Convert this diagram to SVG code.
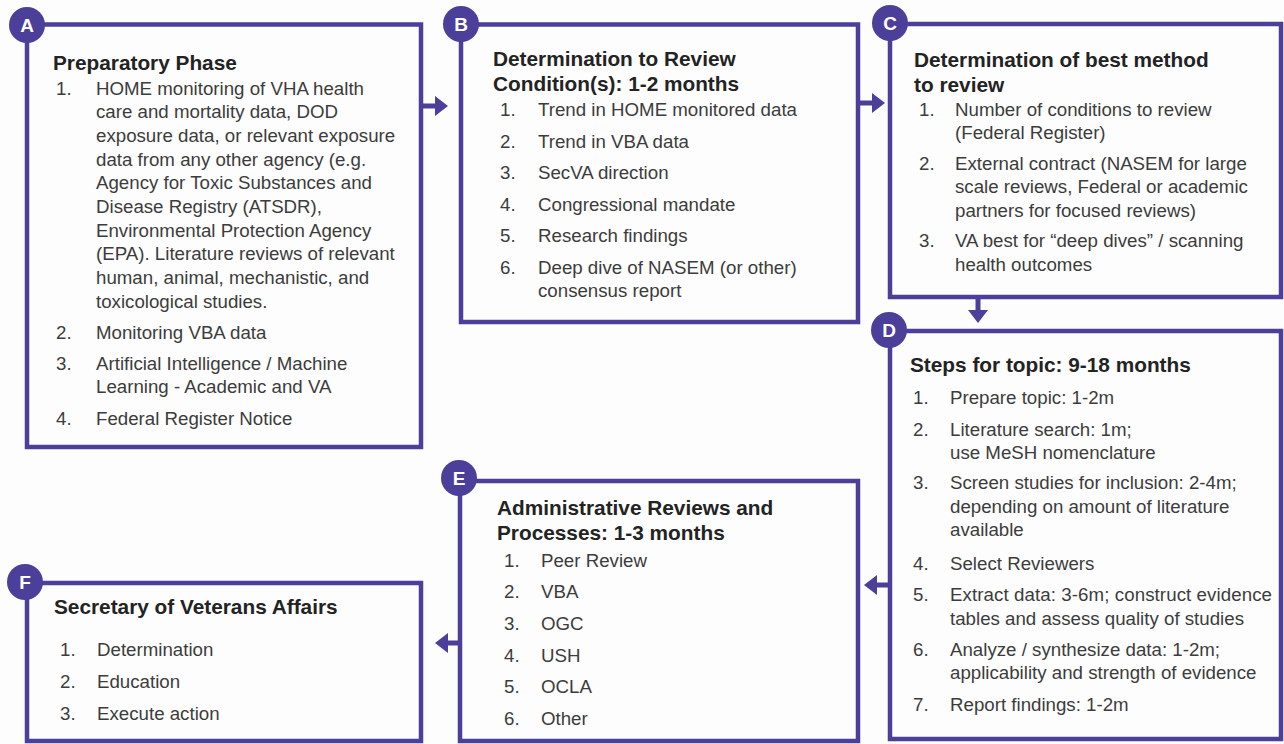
<svg xmlns="http://www.w3.org/2000/svg" width="1284" height="744" viewBox="0 0 1284 744">
  <defs>
    <style>
      .box { fill: none; stroke: #4b3f99; stroke-width: 4.5; }
      .badge { fill: #4b3f99; }
      .badge-t { fill: #ffffff; font-family: "Liberation Sans", Arial, sans-serif; font-weight: 700; font-size: 19px; text-anchor: middle; }
      .title { fill: #232323; font-family: "Liberation Sans", Arial, sans-serif; font-weight: 700; font-size: 20.8px; }
      .body { fill: #3c3c3c; font-family: "Liberation Sans", Arial, sans-serif; font-size: 18.7px; }
      .conn { stroke: #4b3f99; stroke-width: 5; fill: none; }
    </style>
    <marker id="head" markerUnits="userSpaceOnUse" markerWidth="16" markerHeight="22" refX="1" refY="10" orient="auto" overflow="visible">
      <path d="M0,0 L13,10 L0,20 Z" fill="#4b3f99"/>
    </marker>
  </defs>

  <rect x="0" y="0" width="1284" height="744" fill="#fdfdfd"/>

  <!-- connectors between stages -->
  <g id="connectors">
    <line class="conn" x1="421" y1="106" x2="436" y2="106" marker-end="url(#head)"/>
    <line class="conn" x1="858" y1="103" x2="873" y2="103" marker-end="url(#head)"/>
    <line class="conn" x1="978" y1="297" x2="978" y2="311" marker-end="url(#head)"/>
    <line class="conn" x1="890" y1="585" x2="876" y2="585" marker-end="url(#head)"/>
    <line class="conn" x1="460" y1="643" x2="447" y2="643" marker-end="url(#head)"/>
  </g>

  <!-- A: preparatory phase -->
  <g id="stage-a">
    <rect class="box" x="27" y="24.5" width="394" height="422.5"/>
    <circle class="badge" cx="27" cy="25" r="18"/>
    <text class="badge-t" x="27" y="32">A</text>
    <text class="title" x="53" y="69.5">Preparatory Phase</text>
    <g class="body">
      <text x="56" y="94.5">1.</text>
      <text x="96" y="94.5">HOME monitoring of VHA health</text>
      <text x="96" y="118.2">care and mortality data, DOD</text>
      <text x="96" y="141.9">exposure data, or relevant exposure</text>
      <text x="96" y="165.6">data from any other agency (e.g.</text>
      <text x="96" y="189.3">Agency for Toxic Substances and</text>
      <text x="96" y="213">Disease Registry (ATSDR),</text>
      <text x="96" y="236.7">Environmental Protection Agency</text>
      <text x="96" y="260.4">(EPA). Literature reviews of relevant</text>
      <text x="96" y="284.1">human, animal, mechanistic, and</text>
      <text x="96" y="307.8">toxicological studies.</text>
      <text x="56" y="338.5">2.</text>
      <text x="96" y="338.5">Monitoring VBA data</text>
      <text x="56" y="369.5">3.</text>
      <text x="96" y="369.5">Artificial Intelligence / Machine</text>
      <text x="96" y="393.2">Learning - Academic and VA</text>
      <text x="56" y="424.5">4.</text>
      <text x="96" y="424.5">Federal Register Notice</text>
    </g>
  </g>

  <!-- B: determination to review -->
  <g id="stage-b">
    <rect class="box" x="461" y="24.5" width="397" height="297.5"/>
    <circle class="badge" cx="461" cy="24" r="18"/>
    <text class="badge-t" x="461" y="31">B</text>
    <text class="title" x="493" y="66">Determination to Review</text>
    <text class="title" x="493" y="90.5">Condition(s): 1-2 months</text>
    <g class="body">
      <text x="500" y="116">1.</text>
      <text x="538" y="116">Trend in HOME monitored data</text>
      <text x="500" y="147.5">2.</text>
      <text x="538" y="147.5">Trend in VBA data</text>
      <text x="500" y="179">3.</text>
      <text x="538" y="179">SecVA direction</text>
      <text x="500" y="210.5">4.</text>
      <text x="538" y="210.5">Congressional mandate</text>
      <text x="500" y="242">5.</text>
      <text x="538" y="242">Research findings</text>
      <text x="500" y="273.5">6.</text>
      <text x="538" y="273.5">Deep dive of NASEM (or other)</text>
      <text x="538" y="297.2">consensus report</text>
    </g>
  </g>

  <!-- C: determination of method -->
  <g id="stage-c">
    <rect class="box" x="890" y="24" width="391" height="273"/>
    <circle class="badge" cx="890" cy="23" r="18"/>
    <text class="badge-t" x="890" y="30">C</text>
    <text class="title" x="914" y="67">Determination of best method</text>
    <text class="title" x="914" y="91.5">to review</text>
    <g class="body">
      <text x="919" y="115.5">1.</text>
      <text x="955" y="115.5">Number of conditions to review</text>
      <text x="955" y="139.2">(Federal Register)</text>
      <text x="919" y="169.5">2.</text>
      <text x="955" y="169.5">External contract (NASEM for large</text>
      <text x="955" y="193.2">scale reviews, Federal or academic</text>
      <text x="955" y="216.9">partners for focused reviews)</text>
      <text x="919" y="247">3.</text>
      <text x="955" y="247">VA best for “deep dives” / scanning</text>
      <text x="955" y="270.7">health outcomes</text>
    </g>
  </g>

  <!-- D: steps for topic -->
  <g id="stage-d">
    <rect class="box" x="890" y="331" width="391" height="408"/>
    <circle class="badge" cx="889" cy="330" r="18"/>
    <text class="badge-t" x="889" y="337">D</text>
    <text class="title" x="910" y="372">Steps for topic: 9-18 months</text>
    <g class="body">
      <text x="913" y="404">1.</text>
      <text x="950" y="404">Prepare topic: 1-2m</text>
      <text x="913" y="435.5">2.</text>
      <text x="950" y="435.5">Literature search: 1m;</text>
      <text x="950" y="459.2">use MeSH nomenclature</text>
      <text x="913" y="489">3.</text>
      <text x="950" y="489">Screen studies for inclusion: 2-4m;</text>
      <text x="950" y="512.7">depending on amount of literature</text>
      <text x="950" y="536.4">available</text>
      <text x="913" y="569.5">4.</text>
      <text x="950" y="569.5">Select Reviewers</text>
      <text x="913" y="601">5.</text>
      <text x="950" y="601" textLength="322" lengthAdjust="spacing">Extract data: 3-6m; construct evidence</text>
      <text x="950" y="624.7">tables and assess quality of studies</text>
      <text x="913" y="655.5">6.</text>
      <text x="950" y="655.5">Analyze / synthesize data: 1-2m;</text>
      <text x="950" y="679.2">applicability and strength of evidence</text>
      <text x="913" y="710.5">7.</text>
      <text x="950" y="710.5">Report findings: 1-2m</text>
    </g>
  </g>

  <!-- E: administrative reviews -->
  <g id="stage-e">
    <rect class="box" x="460" y="481" width="398" height="260"/>
    <circle class="badge" cx="459" cy="478" r="18"/>
    <text class="badge-t" x="459" y="485">E</text>
    <text class="title" x="497" y="515">Administrative Reviews and</text>
    <text class="title" x="497" y="540">Processes: 1-3 months</text>
    <g class="body">
      <text x="504" y="566.5">1.</text>
      <text x="541" y="566.5">Peer Review</text>
      <text x="504" y="598.3">2.</text>
      <text x="541" y="598.3">VBA</text>
      <text x="504" y="630">3.</text>
      <text x="541" y="630">OGC</text>
      <text x="504" y="661.7">4.</text>
      <text x="541" y="661.7">USH</text>
      <text x="504" y="693.4">5.</text>
      <text x="541" y="693.4">OCLA</text>
      <text x="504" y="725.1">6.</text>
      <text x="541" y="725.1">Other</text>
    </g>
  </g>

  <!-- F: secretary decision -->
  <g id="stage-f">
    <rect class="box" x="27" y="583" width="394" height="158"/>
    <circle class="badge" cx="25" cy="582" r="18"/>
    <text class="badge-t" x="25" y="589">F</text>
    <text class="title" x="54" y="614">Secretary of Veterans Affairs</text>
    <g class="body">
      <text x="60" y="656">1.</text>
      <text x="97" y="656">Determination</text>
      <text x="60" y="687.5">2.</text>
      <text x="97" y="687.5">Education</text>
      <text x="60" y="719.5">3.</text>
      <text x="97" y="719.5">Execute action</text>
    </g>
  </g>
</svg>
